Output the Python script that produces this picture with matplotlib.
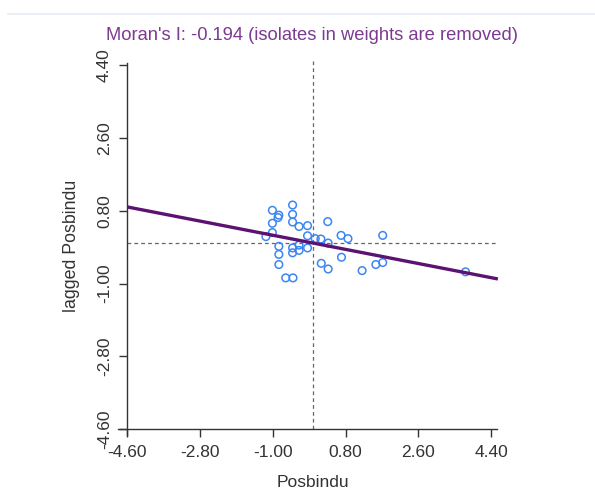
import matplotlib
matplotlib.use("Agg")
import matplotlib.pyplot as plt
from matplotlib.lines import Line2D
import numpy as np

plt.rcParams['font.family'] = ['Liberation Sans', 'DejaVu Sans']

title = "Moran's I: -0.194 (isolates in weights are removed)"
x_label = "Posbindu"
y_label = "lagged Posbindu"
moran_i = -0.194
ticks = [-4.60, -2.80, -1.00, 0.80, 2.60, 4.40]
tick_labels = ["-4.60", "-2.80", "-1.00", "0.80", "2.60", "4.40"]

x_vals = [-1.01, -0.85, -0.87, -0.51, -0.51, -0.51, -0.35, -0.14, -1.01, -1.01,
          -1.17, -0.14, 0.36, 0.05, 0.19, 0.37, 0.69, 0.86, 1.72, -0.85,
          -0.85, -0.85, -0.68, -0.50, -0.51, -0.51, -0.35, -0.35, -0.14, 0.20,
          0.37, 0.70, 1.21, 1.55, 1.72, 3.77]
y_vals = [0.81, 0.69, 0.63, 0.94, 0.71, 0.52, 0.41, 0.43, 0.49, 0.26,
          0.16, 0.18, 0.53, 0.11, 0.10, 0.00, 0.19, 0.11, 0.19, -0.08,
          -0.28, -0.53, -0.86, -0.86, -0.12, -0.24, -0.18, -0.05, -0.12, -0.50,
          -0.64, -0.35, -0.68, -0.53, -0.48, -0.71]

fig = plt.figure(figsize=(5.95, 4.9), dpi=100)
fig.add_artist(Line2D([0.013, 1.0], [1 - 14.5 / 490, 1 - 14.5 / 490],
                      color='#e6ecf3', lw=1.2, transform=fig.transFigure))

ax = fig.add_axes([117.2 / 595, (490 - 436.6) / 490, 381.9 / 595, 375.7 / 490])
ax.set_xlim(-4.85, 4.6)
ax.set_ylim(-4.78, 4.5)

for s in ['top', 'right']:
    ax.spines[s].set_visible(False)
ax.spines['left'].set_position(('data', -4.6))
ax.spines['bottom'].set_position(('data', -4.6))
ax.spines['left'].set_bounds(-4.74, 4.45)
ax.spines['bottom'].set_bounds(-4.83, 4.55)
for s in ['left', 'bottom']:
    ax.spines[s].set_color('#333333')
    ax.spines[s].set_linewidth(1.0)

ax.set_xticks(ticks)
ax.set_xticklabels(tick_labels)
ax.set_yticks(ticks)
ax.set_yticklabels(tick_labels, rotation=90, va='center')
ax.tick_params(axis='both', direction='out', length=6, width=1.0,
               color='#333333', labelsize=12.5, labelcolor='#333333', pad=5)

# reference lines at zero
ax.plot([0, 0], [-4.6, 4.5], ls=(0, (3, 2.5)), color='#666666', lw=0.9, zorder=1)
ax.plot([-4.6, 4.55], [0, 0], ls=(0, (3, 2.5)), color='#666666', lw=0.9, zorder=1)

# regression line
xl = np.array([-4.6, 4.57])
ax.plot(xl, moran_i * xl, color='#5c1270', lw=2.4, zorder=3, solid_capstyle='butt')

ax.scatter(x_vals, y_vals, s=30, facecolors='none', edgecolors='#3d86f2',
           linewidths=1.1, zorder=2)

fig.text(312.5 / 595, 1 - 35 / 490, title, ha='center', va='center',
         fontsize=13.2, color='#7d3a92')
fig.text(313 / 595, 1 - 482 / 490, x_label, ha='center', va='center',
         fontsize=12.5, color='#333333')
fig.text(72 / 595, 1 - 246 / 490, y_label, ha='center', va='center',
         fontsize=12.8, color='#333333', rotation=90)

fig.savefig('out.png', dpi=100)
